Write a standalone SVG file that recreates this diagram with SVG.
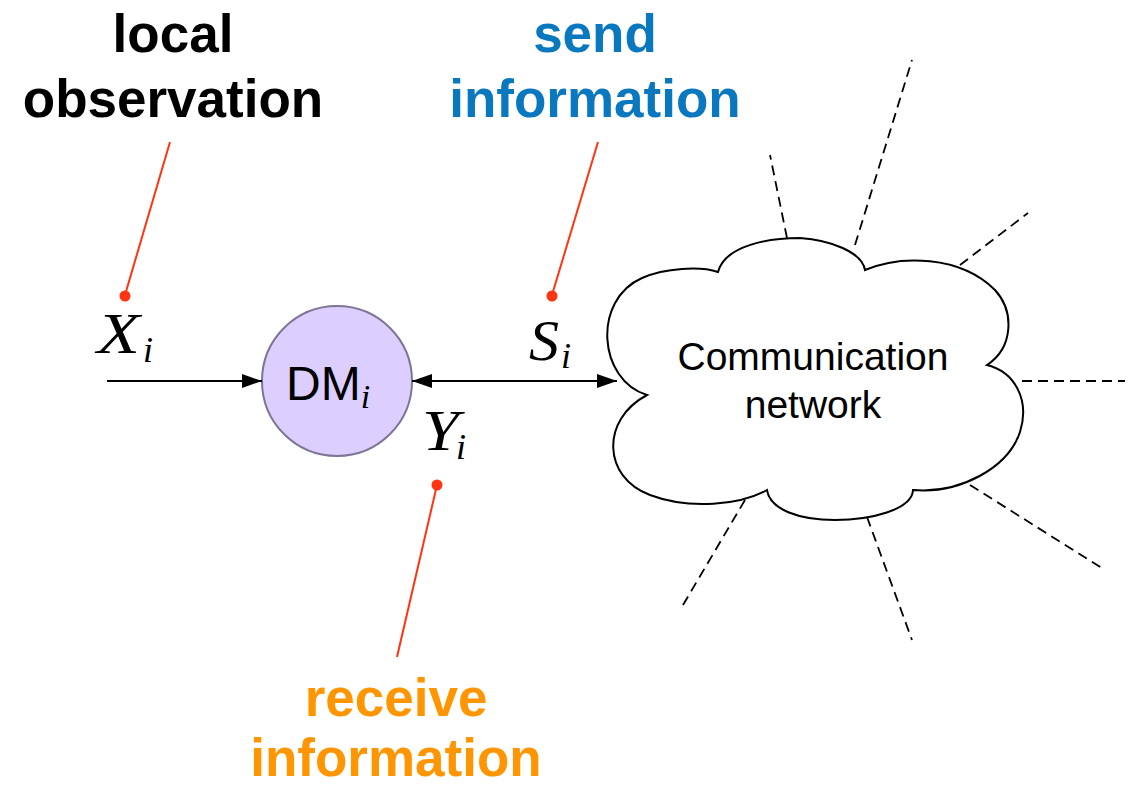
<svg xmlns="http://www.w3.org/2000/svg" width="1129" height="788" viewBox="0 0 1129 788">
  <style>
    .head { font-family: "Liberation Sans", Arial, sans-serif; font-weight: bold; font-size: 53px; text-anchor: middle; }
    .math { font-family: "Liberation Serif", "Times New Roman", serif; font-style: italic; }
    .sym { font-size: 56px; }
    .sub { font-size: 36px; }
    .sans { font-family: "Liberation Sans", Arial, sans-serif; }
    .lead { stroke: #ff3412; stroke-width: 2; fill: none; }
    .dot { fill: #ff3412; }
    .edge { stroke: #000; stroke-width: 2.2; fill: none; }
    .ray { stroke: #000; stroke-width: 1.8; stroke-dasharray: 10 6; fill: none; }
  </style>
  <defs>
    <marker id="arrow" viewBox="0 0 20 14" refX="20" refY="7" markerWidth="20" markerHeight="14" markerUnits="userSpaceOnUse" orient="auto-start-reverse">
      <path d="M0,0 L20,7 L0,14 Z" fill="#000"/>
    </marker>
  </defs>

  <rect width="1129" height="788" fill="#fff"/>

  <!-- annotation headings with leader lines -->
  <g id="label-local-observation">
    <text class="head" x="173" y="52" fill="#000">local</text>
    <text class="head" x="173" y="117" fill="#000">observation</text>
    <path class="lead" d="M170,142 L125,295"/>
    <circle class="dot" cx="125" cy="296" r="5.5"/>
  </g>
  <g id="label-send-information">
    <text class="head" x="595" y="52" fill="#0a78bf">send</text>
    <text class="head" x="595" y="117" fill="#0a78bf">information</text>
    <path class="lead" d="M598,142 L552,295"/>
    <circle class="dot" cx="552" cy="296" r="5.5"/>
  </g>
  <g id="label-receive-information">
    <text class="head" x="396" y="716" fill="#ff9500">receive</text>
    <text class="head" x="396" y="776" fill="#ff9500">information</text>
    <path class="lead" d="M437,485 L397,657"/>
    <circle class="dot" cx="437" cy="485" r="5.5"/>
  </g>

  <!-- variable labels -->
  <g id="var-x" class="math">
    <text class="sym" x="97" y="353" textLength="43" lengthAdjust="spacingAndGlyphs">X</text>
    <text class="sub" x="143" y="362">i</text>
  </g>
  <g id="var-s" class="math">
    <text class="sym" x="529" y="360" textLength="30" lengthAdjust="spacingAndGlyphs">S</text>
    <text class="sub" x="561" y="368">i</text>
  </g>
  <g id="var-y" class="math">
    <text class="sym" x="422" y="450" textLength="37" lengthAdjust="spacingAndGlyphs">Y</text>
    <text class="sub" x="456" y="459">i</text>
  </g>

  <!-- decision maker node -->
  <g id="node-dm">
    <circle cx="337" cy="381" r="75" fill="#dccfff" stroke="#7e7496" stroke-width="2"/>
    <text class="sans" x="286" y="400" font-size="48">DM<tspan class="math" font-size="34" dy="8">i</tspan></text>
  </g>

  <!-- communication network cloud -->
  <g id="node-network">
    <path d="M647,395 C598,380 592,300 642,278 C665,268 700,266 718,272
             C725,245 770,238 800,238 C830,240 862,252 865,270
             C900,255 960,255 995,290 C1015,312 1013,348 987,365
             C1015,372 1030,400 1020,432 C1008,468 960,494 913,490
             C912,510 870,520 835,520 C800,520 770,510 767,490
             C740,505 690,510 650,495 C603,478 600,420 647,395 Z"
          fill="#fff" stroke="#000" stroke-width="2"/>
    <text class="sans" x="813" y="370" font-size="39" text-anchor="middle">Communication</text>
    <text class="sans" x="813" y="418" font-size="39" text-anchor="middle">network</text>
  </g>

  <!-- connectors: data flows and network links -->
  <g id="connectors">
    <path class="edge" d="M107,381 L262,381" marker-end="url(#arrow)"/>
    <path class="edge" d="M412,381 L617,381" marker-start="url(#arrow)" marker-end="url(#arrow)"/>
    <path class="ray" d="M787,238 L770,155"/>
    <path class="ray" d="M855,245 L912,60"/>
    <path class="ray" d="M960,265 L1028,213"/>
    <path class="ray" d="M1022,381 L1125,381"/>
    <path class="ray" d="M970,485 L1105,570"/>
    <path class="ray" d="M867,517 L912,640"/>
    <path class="ray" d="M745,500 L683,605"/>
  </g>
</svg>
